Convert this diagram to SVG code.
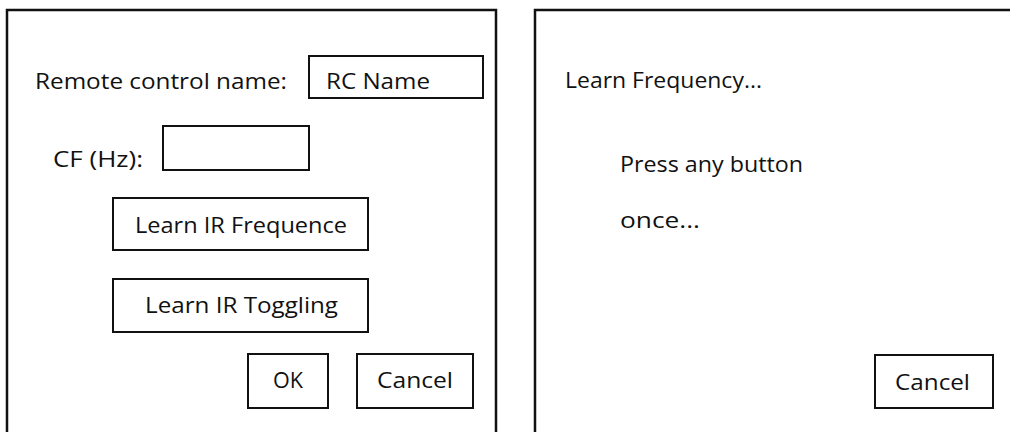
<svg xmlns="http://www.w3.org/2000/svg" width="1010" height="432" viewBox="0 0 1010 432">
<style>
.frame{fill:none;stroke:#111;stroke-width:2.5}
.box{fill:#fff;stroke:#111;stroke-width:2}
.t{font-family:"Open Sans","Liberation Sans",sans-serif;font-size:22.5px;fill:#111}
</style>
<rect width="1010" height="432" fill="#fff"/>
<g id="dialog-left">
<path class="frame" d="M7,440 V10 H496 V440"/>
<text class="t" x="35" y="89" textLength="252" lengthAdjust="spacingAndGlyphs">Remote control name:</text>
<g id="rc-name"><rect class="box" x="309" y="56" width="174" height="42"/><text class="t" x="326" y="89" textLength="104" lengthAdjust="spacingAndGlyphs">RC Name</text></g>
<text class="t" x="53" y="167" textLength="90" lengthAdjust="spacingAndGlyphs">CF (Hz):</text>
<g id="cf-field"><rect class="box" x="163" y="126" width="146" height="44"/></g>
<g id="btn-learn-freq"><rect class="box" x="113" y="198" width="255" height="52"/><text class="t" x="135" y="233" textLength="212" lengthAdjust="spacingAndGlyphs">Learn IR Frequence</text></g>
<g id="btn-learn-toggle"><rect class="box" x="113" y="279" width="255" height="53"/><text class="t" x="145" y="313" textLength="193" lengthAdjust="spacingAndGlyphs">Learn IR Toggling</text></g>
<g id="btn-ok"><rect class="box" x="248" y="354" width="80" height="54"/><text class="t" x="273" y="388" textLength="30" lengthAdjust="spacingAndGlyphs">OK</text></g>
<g id="btn-cancel-left"><rect class="box" x="357" y="354" width="116" height="54"/><text class="t" x="377" y="388" textLength="76" lengthAdjust="spacingAndGlyphs">Cancel</text></g>
</g>
<g id="dialog-right">
<path class="frame" d="M535,440 V10 H1010"/>
<text class="t" x="565" y="88" textLength="197" lengthAdjust="spacingAndGlyphs">Learn Frequency...</text>
<text class="t" x="620" y="172" textLength="183" lengthAdjust="spacingAndGlyphs">Press any button</text>
<text class="t" x="620" y="228" textLength="80" lengthAdjust="spacingAndGlyphs">once...</text>
<g id="btn-cancel-right"><rect class="box" x="875" y="355" width="118" height="53"/><text class="t" x="895" y="390" textLength="75" lengthAdjust="spacingAndGlyphs">Cancel</text></g>
</g>
<g id="connectors"/>
</svg>
